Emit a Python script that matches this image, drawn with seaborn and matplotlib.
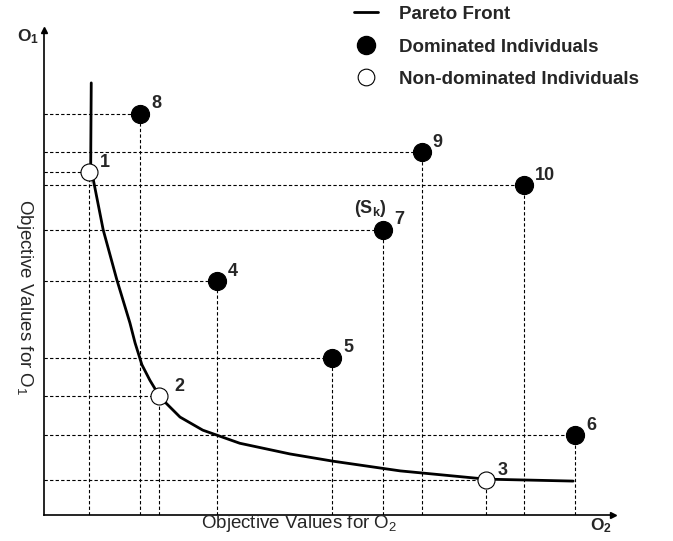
import numpy as np
import pandas as pd
import matplotlib
matplotlib.use("Agg")
import matplotlib.pyplot as plt
from matplotlib.lines import Line2D
import seaborn as sns

# individuals (O2 on x, O1 on y), arbitrary units 0..100
ids = ["1", "2", "3", "4", "5", "6", "7", "8", "9", "10"]
o2 = [7.9, 20.2, 77.7, 30.4, 50.6, 93.3, 59.6, 16.9, 66.4, 84.4]
o1 = [70.7, 24.5, 7.2, 48.2, 32.4, 16.5, 58.8, 82.7, 74.8, 68.0]
dominated = [False, False, False, True, True, True, True, True, True, True]

# pareto front curve
front_o2 = [8.3, 8.2, 8.2, 10.4, 12.8, 15.1, 16.0, 17.2, 18.6, 20.4, 23.9, 27.9, 34.4, 43.2,
            50.8, 62.6, 77.7, 93.0]
front_o1 = [89.1, 75.3, 68.5, 58.8, 48.5, 39.6, 35.5, 31.0, 27.8, 24.3, 20.2, 17.5, 14.8, 12.6,
            11.1, 9.1, 7.4, 7.0]

sns.set_style("white")
plt.rcParams["font.family"] = ["Liberation Sans", "DejaVu Sans"]
plt.rcParams["mathtext.fontset"] = "custom"
plt.rcParams["mathtext.rm"] = "Liberation Sans"
plt.rcParams["mathtext.bf"] = "Liberation Sans:bold"
plt.rcParams["mathtext.it"] = "Liberation Sans:italic"

df = pd.DataFrame({"id": ids, "o2": o2, "o1": o1, "dominated": dominated})
front = pd.DataFrame({"o2": front_o2, "o1": front_o1})

fig = plt.figure(figsize=(6.73, 5.41), dpi=100)
ax = fig.add_axes([0.0654, 0.048, 0.8455, 0.8965])
ax.set_xlim(0, 100)
ax.set_ylim(0, 100)

# dashed guide lines from each individual to both axes
dash = dict(color="black", lw=0.8, linestyles=(0, (3, 2)), zorder=1)
ax.hlines(df.o1, 0, df.o2, **dash)
ax.vlines(df.o2, 0, df.o1, **dash)

sns.lineplot(data=front, x="o2", y="o1", sort=False, color="black", lw=2, ax=ax, zorder=2)

dom = df[df.dominated]
nondom = df[~df.dominated]
sns.scatterplot(data=dom, x="o2", y="o1", color="black", s=170, edgecolor="black",
                linewidth=0.8, ax=ax, zorder=3, legend=False)
sns.scatterplot(data=nondom, x="o2", y="o1", color="white", s=150, edgecolor="black",
                linewidth=0.8, ax=ax, zorder=3, legend=False)

for _, r in df.iterrows():
    dx = 15 if r.id == "2" else 11
    dy = 10
    ax.annotate(r.id, (r.o2, r.o1), xytext=(dx, dy), textcoords="offset pixels",
                ha="left", va="center", fontsize=13, fontweight="bold")
ax.annotate(r"$\mathbf{(S_k)}$", (o2[6], o1[6]), xytext=(-13, 21), textcoords="offset pixels",
            ha="center", va="center", fontsize=13)

# axes with arrow heads
for s in ["top", "right"]:
    ax.spines[s].set_visible(False)
for s in ["left", "bottom"]:
    ax.spines[s].set_linewidth(1.2)
    ax.spines[s].set_color("black")
ax.plot(1, 0, ">k", ms=5, transform=ax.get_yaxis_transform(), clip_on=False)
ax.plot(0, 1, "^k", ms=5, transform=ax.get_xaxis_transform(), clip_on=False)
ax.set_xticks([])
ax.set_yticks([])
ax.set_xlabel("")
ax.set_ylabel("")

fig.text(299 / 673, 1 - 524 / 541, r"Objective Values for O$_2$", ha="center", va="center", fontsize=13.5)
fig.text(24 / 673, 1 - 297 / 541, r"Objective Values for O$_1$", ha="center", va="center",
         fontsize=13.5, rotation=270)
fig.text(28 / 673, 1 - 37 / 541, r"$\mathbf{O_1}$", ha="center", va="center", fontsize=12.5)
fig.text(601 / 673, 1 - 526 / 541, r"$\mathbf{O_2}$", ha="center", va="center", fontsize=12.5)

handles = [
    Line2D([], [], color="black", lw=2),
    Line2D([], [], marker="o", ls="", color="black", ms=13),
    Line2D([], [], marker="o", ls="", mfc="white", mec="black", mew=0.8, ms=12),
]
labels = ["Pareto Front", "Dominated Individuals", "Non-dominated Individuals"]
leg = fig.legend(handles, labels, loc="upper left", bbox_to_anchor=(337 / 673, 1 + 11 / 541),
                 frameon=False, handlelength=1.3, handletextpad=1.1, labelspacing=0.82,
                 prop={"weight": "bold", "size": 13.5})

fig.savefig("out.png", dpi=100)
